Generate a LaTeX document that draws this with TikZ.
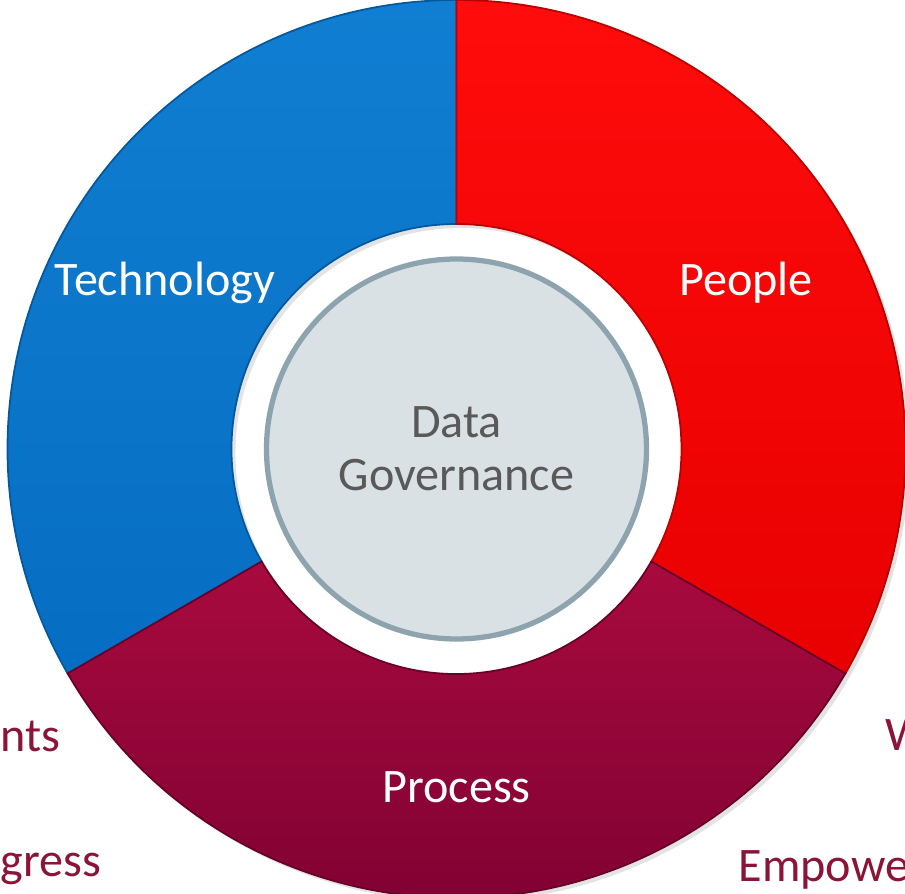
\documentclass[tikz,border=0pt]{standalone}
\usepackage{xcolor}
\usepackage{fontspec}
\setmainfont{Carlito}
\usepackage{tikz}
\usetikzlibrary{calc}
\usetikzlibrary{shadows}
\definecolor{techblue}{RGB}{6,110,194}
\definecolor{techbluetop}{RGB}{16,126,210}
\definecolor{peoplered}{RGB}{232,0,0}
\definecolor{peopleredtop}{RGB}{255,12,12}
\definecolor{procred}{RGB}{122,0,48}
\definecolor{procredtop}{RGB}{168,10,62}
\definecolor{coregrey}{RGB}{217,225,228}
\definecolor{coreedge}{RGB}{141,164,175}
\definecolor{coretext}{RGB}{89,89,89}
\definecolor{sidetext}{RGB}{139,21,56}
\tikzstyle{seg} = [line width=0.5pt, drop shadow={opacity=0.22, shadow xshift=0.04, shadow yshift=-0.04}]
\tikzstyle{lbl} = [draw=none, text=white, font=\fontsize{13.7}{15}\selectfont]
\tikzstyle{side} = [draw=none, text=sidetext, inner sep=0pt, font=\fontsize{13.7}{15}\selectfont]
\newcommand{\ringout}{4.49}
\newcommand{\ringin}{2.25}

\begin{document}
\begin{tikzpicture}
\useasboundingbox (0,0) rectangle (9.05,8.94);
\coordinate (C) at (4.565, 4.45);
\begin{scope}[shift={(C)}]
\path [seg, draw=techblue!80!black, top color=techbluetop, bottom color=techblue] (90:\ringout) arc [start angle=90, end angle=210, radius=\ringout] -- (210:\ringin) arc [start angle=210, end angle=90, radius=\ringin] -- cycle;
\path [seg, draw=peoplered!80!black, top color=peopleredtop, bottom color=peoplered] (-30:\ringout) arc [start angle=-30, end angle=90, radius=\ringout] -- (90:\ringin) arc [start angle=90, end angle=-30, radius=\ringin] -- cycle;
\path [seg, draw=procred!85!black, top color=procredtop, bottom color=procred] (210:\ringout) arc [start angle=210, end angle=330, radius=\ringout] -- (330:\ringin) arc [start angle=330, end angle=210, radius=\ringin] -- cycle;
\end{scope}
\node [circle, minimum size=3.8cm, inner sep=0pt, fill=coregrey, draw=coreedge, line width=1.5pt, text=coretext, align=center, font=\fontsize{13.7}{15}\selectfont] (DG) at (C) {Data\\Governance};
\node [lbl] (Tech) at (1.65, 6.11) {Technology};
\node [lbl] (People) at (7.46, 6.11) {People};
\node [lbl] (Proc) at (4.565, 1.07) {Process};
\node [side, anchor=base west] (nts) at (0.0, 1.42) {nts};
\node [side, anchor=base west] (gress) at (0.0, 0.17) {gress};
\node [side, anchor=base west] (W) at (8.85, 1.43) {W};
\node [side, anchor=base west] (Emp) at (7.38, 0.12) {Empowe};
\end{tikzpicture}
\end{document}
